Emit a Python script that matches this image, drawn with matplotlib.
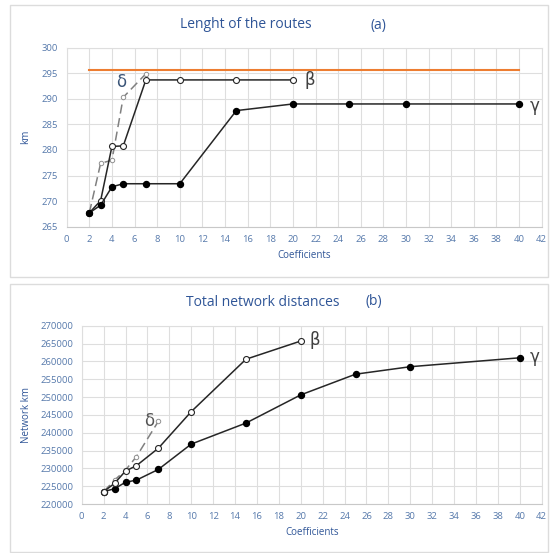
import matplotlib
matplotlib.use("Agg")
import matplotlib.pyplot as plt
from matplotlib.patches import Rectangle

# ---- data ----
coef_beta = [2, 3, 4, 5, 7, 10, 15, 20]
coef_gamma = [2, 3, 4, 5, 7, 10, 15, 20, 25, 30, 40]
coef_delta = [2, 3, 4, 5, 7]

len_beta = [267.7, 270.1, 280.7, 280.8, 293.7, 293.7, 293.7, 293.7]
len_gamma = [267.7, 269.2, 272.8, 273.4, 273.4, 273.4, 287.7, 289.0, 289.0, 289.0, 289.0]
len_delta = [267.7, 277.4, 278.0, 290.3, 294.9]
len_limit_x = [2, 40]
len_limit = [295.7, 295.7]

net_beta = [223450, 225800, 229250, 230750, 235650, 245900, 260600, 265700]
net_gamma = [223450, 224300, 226100, 226700, 229700, 236800, 242700, 250600, 256400, 258500, 261000]
net_delta = [223450, 226700, 229500, 233300, 243200]

W, H = 550, 553
BLUE = "#2f5597"
TICK = "#5679ab"
GRID = "#dedede"

plt.rcParams["font.family"] = ["Open Sans", "DejaVu Sans"]

fig = plt.figure(figsize=(5.5, 5.53), dpi=100)

# panel frames
for y0, y1 in [(5, 277), (284, 552)]:
    fig.patches.append(Rectangle((10 / W, 1 - y1 / H), 538 / W, (y1 - y0) / H,
                                 transform=fig.transFigure, fill=False,
                                 edgecolor="#dcdcdc", lw=1.0))


def make_ax(px_left, px_right, px_top, px_bottom):
    return fig.add_axes([px_left / W, 1 - px_bottom / H,
                         (px_right - px_left) / W, (px_bottom - px_top) / H])


def style(ax, ylim, ystep):
    ax.set_xlim(0, 42)
    ax.set_ylim(*ylim)
    ax.set_xticks(range(0, 43, 2))
    ax.set_yticks(range(ylim[0], ylim[1] + 1, ystep))
    ax.grid(True, color=GRID, lw=0.8)
    ax.set_axisbelow(True)
    for s in ax.spines.values():
        s.set_color(GRID)
        s.set_linewidth(0.8)
    ax.spines["bottom"].set_color("#c8c8c8")
    ax.tick_params(length=0, labelsize=6.8, labelcolor=TICK, pad=6)


# ---- (a) ----
ax1 = make_ax(66.7, 541.7, 47.7, 226.7)
style(ax1, (265, 300), 5)
ax1.plot(len_limit_x, len_limit, color="#ed7d31", lw=1.5, zorder=2)
ax1.plot(coef_delta, len_delta, color="#808080", lw=1.1, ls=(0, (6, 3)),
         marker="o", ms=3.2, mfc="white", mec="#909090", mew=0.7, zorder=3)
ax1.plot(coef_beta, len_beta, color="#262626", lw=1.1, marker="o", ms=4.3,
         mfc="white", mec="#262626", mew=0.8, zorder=4)
ax1.plot(coef_gamma, len_gamma, color="#262626", lw=1.1, marker="o", ms=4.3,
         mfc="black", mec="black", zorder=5)
ax1.text(21.0, 293.6, "β", fontsize=12, color="#404040", va="center", ha="left",
         family=["DejaVu Sans"])
ax1.text(40.9, 288.6, "γ", fontsize=12, color="#404040", va="center", ha="left",
         family=["DejaVu Sans"])
ax1.text(5.3, 293.3, "δ", fontsize=12, color="#3b5578", va="center", ha="right",
         family=["DejaVu Sans"])
ax1.set_ylabel("km", fontsize=7, color=BLUE, labelpad=8)
ax1.set_xlabel("Coefficients", fontsize=7, color=BLUE, labelpad=4)
fig.text(246 / W, 1 - 25 / H, "Lenght of the routes", fontsize=10, color=BLUE,
         ha="center", va="center")
fig.text(378 / W, 1 - 25 / H, "(a)", fontsize=10, color=BLUE, ha="center", va="center")

# ---- (b) ----
ax2 = make_ax(81.7, 541.7, 325.7, 504)
style(ax2, (220000, 270000), 5000)
ax2.plot(coef_delta, net_delta, color="#808080", lw=1.1, ls=(0, (6, 3)),
         marker="o", ms=3.2, mfc="white", mec="#909090", mew=0.7, zorder=3)
ax2.plot(coef_gamma, net_gamma, color="#262626", lw=1.1, marker="o", ms=4.3,
         mfc="black", mec="black", zorder=4)
ax2.plot(coef_beta, net_beta, color="#262626", lw=1.1, marker="o", ms=4.3,
         mfc="white", mec="#262626", mew=0.8, zorder=5)
ax2.text(20.8, 266000, "β", fontsize=12, color="#404040", va="center", ha="left",
         family=["DejaVu Sans"])
ax2.text(40.9, 261300, "γ", fontsize=12, color="#404040", va="center", ha="left",
         family=["DejaVu Sans"])
ax2.text(6.6, 243300, "δ", fontsize=12, color="#555555", va="center", ha="right",
         family=["DejaVu Sans"])
ax2.set_ylabel("Network km", fontsize=7, color=BLUE, labelpad=6)
ax2.set_xlabel("Coefficients", fontsize=7, color=BLUE, labelpad=4)
fig.text(263 / W, 1 - 302 / H, "Total network distances", fontsize=10, color=BLUE,
         ha="center", va="center")
fig.text(374 / W, 1 - 302 / H, "(b)", fontsize=10, color=BLUE, ha="center", va="center")

fig.savefig("out.png", dpi=100)
